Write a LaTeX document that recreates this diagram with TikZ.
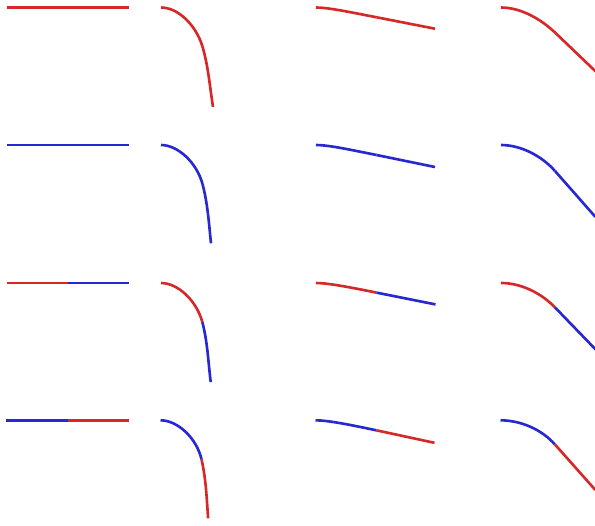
\documentclass[tikz,border=0pt]{standalone}
\usepackage{tikz}
\usepackage{xcolor}
\definecolor{beamred}{RGB}{214, 40, 40}
\definecolor{beamblue}{RGB}{40, 40, 210}
\tikzset{beam/.style={line width=1.5pt}}
% #1 inner half, #2 outer half, #3 root, #4 handle at root,
% #5 middle, #6 angle at middle, #7 handle at middle, #8 tip, #9 angle at tip
\newcommand{\bentbeam}[9]{%
  \begin{scope}[shift={#3}]
    \coordinate (root) at (0,0);
    \coordinate (mid) at #5;
    \coordinate (tip) at #8;
    \draw[beam, #1] (root) .. controls +(#4,0) and +(#6:-#7) .. (mid);
    \draw[beam, #2] (mid) .. controls +(#6:20) and +(#9:-20) .. (tip);
  \end{scope}}

\begin{document}
\begin{tikzpicture}[x=0.02cm, y=-0.02cm]
    \useasboundingbox (0,0) rectangle (595,525);

    % Row 1 (red)
    \bentbeam{beamred}{beamred}{(7,7.5)}{20}{(61,0)}{0}{20}{(122,0)}{0}
    \bentbeam{beamred}{beamred}{(161,7.5)}{17}{(41.3,38.5)}{73}{22}{(52,99.4)}{81}
    \bentbeam{beamred}{beamred}{(316,7.5)}{12}{(60.7,9.8)}{11}{28}{(119,21.2)}{11}
    \bentbeam{beamred}{beamred}{(501,7.5)}{20}{(54.5,25.5)}{43.7}{20}{(98.6,67.7)}{43.7}

    % Row 2 (blue)
    \bentbeam{beamblue}{beamblue}{(7,145)}{20}{(61,0)}{0}{20}{(122,0)}{0}
    \bentbeam{beamblue}{beamblue}{(161,145)}{17}{(41.5,39)}{75}{22}{(50,98.3)}{84}
    \bentbeam{beamblue}{beamblue}{(316,145)}{12}{(60.5,10)}{11.5}{28}{(119,22)}{11.5}
    \bentbeam{beamblue}{beamblue}{(501,145)}{20}{(54,26)}{48.6}{20}{(94.3,71.8)}{48.6}

    % Row 3 (red root, blue tip)
    \bentbeam{beamred}{beamblue}{(7,283)}{20}{(61,0)}{0}{20}{(122,0)}{0}
    \bentbeam{beamred}{beamblue}{(161,283)}{17}{(41.3,39)}{75}{22}{(49.7,99)}{83}
    \bentbeam{beamred}{beamblue}{(316,283)}{12}{(60.5,9.6)}{11.3}{28}{(119.5,21.4)}{11.3}
    \bentbeam{beamred}{beamblue}{(501,283)}{20}{(54,24.4)}{46}{20}{(96.4,68.3)}{46}

    % Row 4 (blue root, red tip)
    \bentbeam{beamblue}{beamred}{(6,420.3)}{20}{(62,0)}{0}{20}{(123,0)}{0}
    \bentbeam{beamblue}{beamred}{(160.5,420.3)}{17}{(41,39)}{77}{22}{(47.6,98)}{86}
    \bentbeam{beamblue}{beamred}{(315.5,420.3)}{12}{(60.8,10)}{12}{28}{(119,22.5)}{12}
    \bentbeam{beamblue}{beamred}{(500.5,420.3)}{20}{(54.3,24)}{48.4}{20}{(94.8,69.6)}{48.4}
\end{tikzpicture}
\end{document}
